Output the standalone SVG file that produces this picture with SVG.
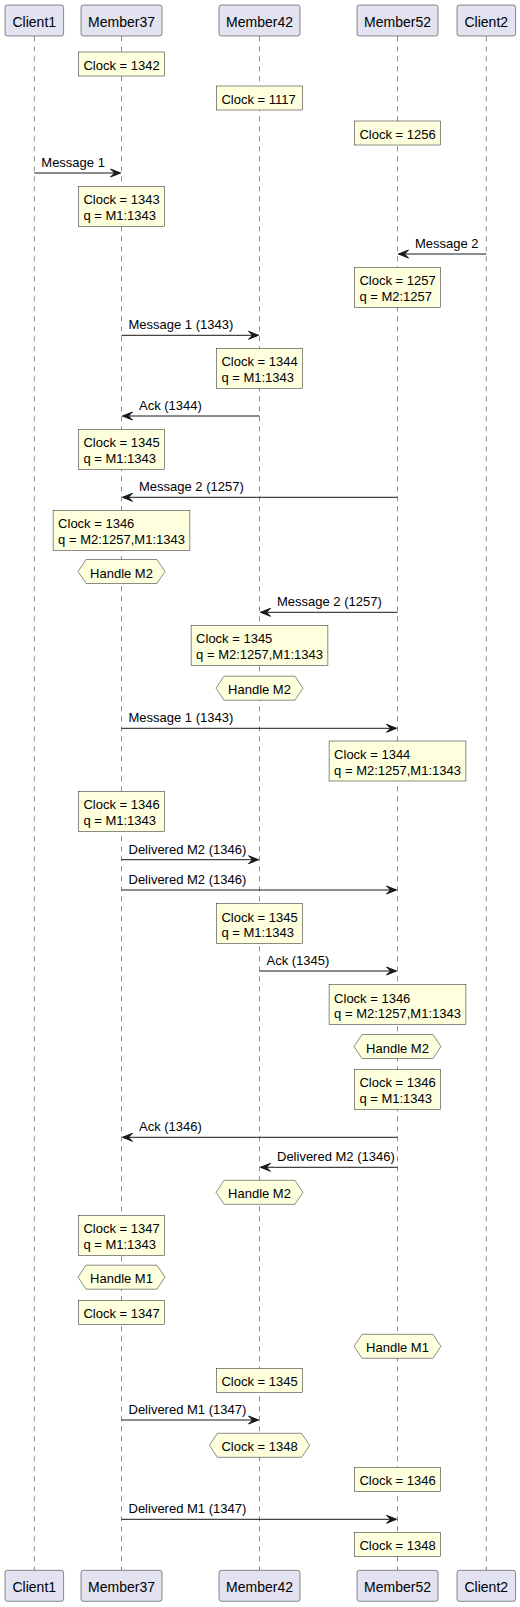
<svg xmlns="http://www.w3.org/2000/svg" width="520" height="1607" viewBox="0 0 520 1607">
<style>
  text { font-family: "Liberation Sans", Arial, sans-serif; fill: #000000; }
  .pbox { fill: #E2E2F0; stroke: #181818; stroke-width: 0.5; }
  .ptxt { font-size: 14px; text-anchor: middle; }
  .life { stroke: #181818; stroke-width: 0.5; stroke-dasharray: 5,5; fill: none; }
  .note { fill: #FEFFDD; stroke: #181818; stroke-width: 0.5; }
  .ntxt { font-size: 13px; }
  .htxt { font-size: 13px; text-anchor: middle; }
  .msg { stroke: #181818; stroke-width: 1; fill: none; marker-end: url(#ah); }
  .mtxt { font-size: 13px; }
</style>
<defs>
  <marker id="ah" viewBox="0 -5 12 10" markerWidth="12" markerHeight="10" refX="11" refY="0" markerUnits="userSpaceOnUse" orient="auto">
    <path d="M1,-4 L11,0 L1,4 L5,0 Z" fill="#181818" stroke="#181818" stroke-width="1"/>
  </marker>
  <rect id="nN1" class="note" x="-43.1" y="0" width="86.2" height="24"/>
  <rect id="nN2" class="note" x="-43.1" y="0" width="86.2" height="40"/>
  <rect id="nW2" class="note" x="-68.4" y="0" width="136.8" height="40"/>
  <polygon id="hexH" class="note" points="-43.45,12 -35.45,0 35.45,0 43.45,12 35.45,24 -35.45,24"/>
  <polygon id="hexC" class="note" points="-50.1,12 -42.1,0 42.1,0 50.1,12 42.1,24 -42.1,24"/>
</defs>

<g id="lifelines">
  <line class="life" x1="34.3" y1="36.3" x2="34.3" y2="1570"/>
  <line class="life" x1="121.5" y1="36.3" x2="121.5" y2="1570"/>
  <line class="life" x1="259.5" y1="36.3" x2="259.5" y2="1570"/>
  <line class="life" x1="397.5" y1="36.3" x2="397.5" y2="1570"/>
  <line class="life" x1="486.3" y1="36.3" x2="486.3" y2="1570"/>
</g>

<g id="Client1">
  <rect class="pbox" x="5" y="5" width="58.6" height="31" rx="2.5"/>
  <text class="ptxt" x="34.3" y="26.5">Client1</text>
  <rect class="pbox" x="5" y="1570.3" width="58.6" height="31" rx="2.5"/>
  <text class="ptxt" x="34.3" y="1591.8">Client1</text>
</g>
<g id="Member37">
  <rect class="pbox" x="81" y="5" width="81" height="31" rx="2.5"/>
  <text class="ptxt" x="121.5" y="26.5">Member37</text>
  <rect class="pbox" x="81" y="1570.3" width="81" height="31" rx="2.5"/>
  <text class="ptxt" x="121.5" y="1591.8">Member37</text>
</g>
<g id="Member42">
  <rect class="pbox" x="219" y="5" width="81" height="31" rx="2.5"/>
  <text class="ptxt" x="259.5" y="26.5">Member42</text>
  <rect class="pbox" x="219" y="1570.3" width="81" height="31" rx="2.5"/>
  <text class="ptxt" x="259.5" y="1591.8">Member42</text>
</g>
<g id="Member52">
  <rect class="pbox" x="357" y="5" width="81" height="31" rx="2.5"/>
  <text class="ptxt" x="397.5" y="26.5">Member52</text>
  <rect class="pbox" x="357" y="1570.3" width="81" height="31" rx="2.5"/>
  <text class="ptxt" x="397.5" y="1591.8">Member52</text>
</g>
<g id="Client2">
  <rect class="pbox" x="457" y="5" width="58.6" height="31" rx="2.5"/>
  <text class="ptxt" x="486.3" y="26.5">Client2</text>
  <rect class="pbox" x="457" y="1570.3" width="58.6" height="31" rx="2.5"/>
  <text class="ptxt" x="486.3" y="1591.8">Client2</text>
</g>

<g id="connectors">
  <line class="msg" x1="34.3" y1="173" x2="120.5" y2="173"/>
  <text class="mtxt" x="41.3" y="167">Message 1</text>
  <line class="msg" x1="486.3" y1="254" x2="398.5" y2="254"/>
  <text class="mtxt" x="415" y="248">Message 2</text>
  <line class="msg" x1="121.5" y1="335.3" x2="258.5" y2="335.3"/>
  <text class="mtxt" x="128.5" y="329.3">Message 1 (1343)</text>
  <line class="msg" x1="259.5" y1="416" x2="122.5" y2="416"/>
  <text class="mtxt" x="139" y="410">Ack (1344)</text>
  <line class="msg" x1="397.5" y1="497.3" x2="122.5" y2="497.3"/>
  <text class="mtxt" x="139" y="491.3">Message 2 (1257)</text>
  <line class="msg" x1="397.5" y1="612.3" x2="260.5" y2="612.3"/>
  <text class="mtxt" x="277" y="606.3">Message 2 (1257)</text>
  <line class="msg" x1="121.5" y1="728.3" x2="396.5" y2="728.3"/>
  <text class="mtxt" x="128.5" y="722.3">Message 1 (1343)</text>
  <line class="msg" x1="121.5" y1="859.7" x2="258.5" y2="859.7"/>
  <text class="mtxt" x="128.5" y="853.7">Delivered M2 (1346)</text>
  <line class="msg" x1="121.5" y1="890" x2="396.5" y2="890"/>
  <text class="mtxt" x="128.5" y="884">Delivered M2 (1346)</text>
  <line class="msg" x1="259.5" y1="971" x2="396.5" y2="971"/>
  <text class="mtxt" x="266.5" y="965">Ack (1345)</text>
  <line class="msg" x1="397.5" y1="1137.3" x2="122.5" y2="1137.3"/>
  <text class="mtxt" x="139" y="1131.3">Ack (1346)</text>
  <line class="msg" x1="397.5" y1="1167.3" x2="260.5" y2="1167.3"/>
  <text class="mtxt" x="277" y="1161.3">Delivered M2 (1346)</text>
  <line class="msg" x1="121.5" y1="1420" x2="258.5" y2="1420"/>
  <text class="mtxt" x="128.5" y="1414">Delivered M1 (1347)</text>
  <line class="msg" x1="121.5" y1="1519.3" x2="396.5" y2="1519.3"/>
  <text class="mtxt" x="128.5" y="1513.3">Delivered M1 (1347)</text>
</g>

<g id="note1" transform="translate(121.5,52)"><use href="#nN1"/><text class="ntxt" x="-38.1" y="18">Clock = 1342</text></g>
<g id="note2" transform="translate(259.5,86)"><use href="#nN1"/><text class="ntxt" x="-38.1" y="18">Clock = 1117</text></g>
<g id="note3" transform="translate(397.5,121)"><use href="#nN1"/><text class="ntxt" x="-38.1" y="18">Clock = 1256</text></g>
<g id="note4" transform="translate(121.5,186.3)"><use href="#nN2"/><text class="ntxt" x="-38.1" y="18">Clock = 1343</text><text class="ntxt" x="-38.1" y="33.5">q = M1:1343</text></g>
<g id="note5" transform="translate(397.5,267.3)"><use href="#nN2"/><text class="ntxt" x="-38.1" y="18">Clock = 1257</text><text class="ntxt" x="-38.1" y="33.5">q = M2:1257</text></g>
<g id="note6" transform="translate(259.5,348.3)"><use href="#nN2"/><text class="ntxt" x="-38.1" y="18">Clock = 1344</text><text class="ntxt" x="-38.1" y="33.5">q = M1:1343</text></g>
<g id="note7" transform="translate(121.5,429.3)"><use href="#nN2"/><text class="ntxt" x="-38.1" y="18">Clock = 1345</text><text class="ntxt" x="-38.1" y="33.5">q = M1:1343</text></g>
<g id="note8" transform="translate(121.5,510.3)"><use href="#nW2"/><text class="ntxt" x="-63.4" y="18">Clock = 1346</text><text class="ntxt" x="-63.4" y="33.5">q = M2:1257,M1:1343</text></g>
<g id="hnote1" transform="translate(121.5,559.5)"><use href="#hexH"/><text class="htxt" x="0" y="18">Handle M2</text></g>
<g id="note9" transform="translate(259.5,625.3)"><use href="#nW2"/><text class="ntxt" x="-63.4" y="18">Clock = 1345</text><text class="ntxt" x="-63.4" y="33.5">q = M2:1257,M1:1343</text></g>
<g id="hnote2" transform="translate(259.5,676.2)"><use href="#hexH"/><text class="htxt" x="0" y="18">Handle M2</text></g>
<g id="note10" transform="translate(397.5,741)"><use href="#nW2"/><text class="ntxt" x="-63.4" y="18">Clock = 1344</text><text class="ntxt" x="-63.4" y="33.5">q = M2:1257,M1:1343</text></g>
<g id="note11" transform="translate(121.5,791.3)"><use href="#nN2"/><text class="ntxt" x="-38.1" y="18">Clock = 1346</text><text class="ntxt" x="-38.1" y="33.5">q = M1:1343</text></g>
<g id="note12" transform="translate(259.5,903.7)"><use href="#nN2"/><text class="ntxt" x="-38.1" y="18">Clock = 1345</text><text class="ntxt" x="-38.1" y="33.5">q = M1:1343</text></g>
<g id="note13" transform="translate(397.5,984.7)"><use href="#nW2"/><text class="ntxt" x="-63.4" y="18">Clock = 1346</text><text class="ntxt" x="-63.4" y="33.5">q = M2:1257,M1:1343</text></g>
<g id="hnote3" transform="translate(397.5,1034.5)"><use href="#hexH"/><text class="htxt" x="0" y="18">Handle M2</text></g>
<g id="note14" transform="translate(397.5,1069.3)"><use href="#nN2"/><text class="ntxt" x="-38.1" y="18">Clock = 1346</text><text class="ntxt" x="-38.1" y="33.5">q = M1:1343</text></g>
<g id="hnote4" transform="translate(259.5,1180.3)"><use href="#hexH"/><text class="htxt" x="0" y="18">Handle M2</text></g>
<g id="note15" transform="translate(121.5,1215.3)"><use href="#nN2"/><text class="ntxt" x="-38.1" y="18">Clock = 1347</text><text class="ntxt" x="-38.1" y="33.5">q = M1:1343</text></g>
<g id="hnote5" transform="translate(121.5,1265.2)"><use href="#hexH"/><text class="htxt" x="0" y="18">Handle M1</text></g>
<g id="note16" transform="translate(121.5,1300.3)"><use href="#nN1"/><text class="ntxt" x="-38.1" y="18">Clock = 1347</text></g>
<g id="hnote6" transform="translate(397.5,1334.3)"><use href="#hexH"/><text class="htxt" x="0" y="18">Handle M1</text></g>
<g id="note17" transform="translate(259.5,1368.3)"><use href="#nN1"/><text class="ntxt" x="-38.1" y="18">Clock = 1345</text></g>
<g id="hnote7" transform="translate(259.5,1433.3)"><use href="#hexC"/><text class="htxt" x="0" y="18">Clock = 1348</text></g>
<g id="note18" transform="translate(397.5,1467.3)"><use href="#nN1"/><text class="ntxt" x="-38.1" y="18">Clock = 1346</text></g>
<g id="note19" transform="translate(397.5,1532.3)"><use href="#nN1"/><text class="ntxt" x="-38.1" y="18">Clock = 1348</text></g>
</svg>
